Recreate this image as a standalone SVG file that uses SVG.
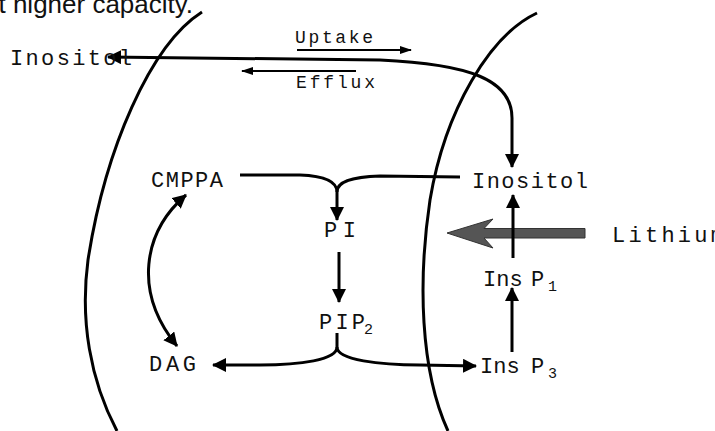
<svg xmlns="http://www.w3.org/2000/svg" width="715" height="431" viewBox="0 0 715 431">
<style>
.lbl{font-family:"Liberation Mono","DejaVu Sans Mono",monospace;font-size:22px;fill:#111}
.small{font-family:"Liberation Mono","DejaVu Sans Mono",monospace;font-size:18px;fill:#111}
.sub{font-family:"Liberation Mono","DejaVu Sans Mono",monospace;font-size:15px;fill:#111}
.mem{fill:none;stroke:#000;stroke-width:3}
.c{fill:none;stroke:#000;stroke-width:3}
.t{fill:none;stroke:#000;stroke-width:2}
</style>
<defs>
<marker id="ah" markerUnits="userSpaceOnUse" markerWidth="14" markerHeight="14" refX="13" refY="7" orient="auto-start-reverse" viewBox="0 0 14 14">
<path d="M0,0 L14,7 L0,14 Z" fill="#000"/>
</marker>
<marker id="ahs" markerUnits="userSpaceOnUse" markerWidth="12" markerHeight="8" refX="11" refY="4" orient="auto-start-reverse" viewBox="0 0 12 8">
<path d="M0,0 L12,4 L0,8 Z" fill="#000"/>
</marker>
</defs>
<rect width="715" height="431" fill="#fff"/>
<text x="-16" y="12.5" font-family="'Liberation Sans',Arial,sans-serif" font-size="26" fill="#111">at higher capacity.</text>
<g id="membranes">
<path class="mem" d="M202,12 C150,45 105,150 88,260 C80,320 90,380 117,431"/>
<path class="mem" d="M537,13 C490,35 445,110 430,200 C418,280 420,370 448,431"/>
</g>
<g id="lithium-arrow">
<path d="M585,228.5 L484,228.5 L493,219 L447,233 L493,248 L484,238 L585,238 Z" fill="#555" stroke="#333" stroke-width="1"/>
</g>
<g id="connectors">
<path class="c" d="M512,167 L512,118 C512,80 470,64 380,60 L108,57" marker-start="url(#ah)" marker-end="url(#ah)"/>
<path class="t" d="M297,50 L411,50" marker-end="url(#ahs)"/>
<path class="t" d="M356,71 L242,71" marker-end="url(#ahs)"/>
<path class="c" d="M240,175 L300,175 C326,176 337,182 337,192"/>
<path class="c" d="M460,177 L380,176 C350,177 337,182 337,192"/>
<path class="c" d="M337,192 L337,220" marker-end="url(#ah)"/>
<path class="c" d="M339,252 L339,302" marker-end="url(#ah)"/>
<path class="c" d="M337,333 L337,347 C337,360 300,365 260,365 L213,365" marker-end="url(#ah)"/>
<path class="c" d="M337,347 C337,360 380,365 420,365 L476,366" marker-end="url(#ah)"/>
<path class="c" d="M512,352 L512,288" marker-end="url(#ah)"/>
<path class="c" d="M513,258 L513,195" marker-end="url(#ah)"/>
<path class="c" d="M186,195 C143,232 133,292 177,346" marker-start="url(#ah)" marker-end="url(#ah)"/>
</g>
<g id="inositol-out"><text class="lbl" x="10" y="65" textLength="122" lengthAdjust="spacing">Inositol</text></g>
<g id="uptake"><text class="small" x="295" y="43" textLength="78" lengthAdjust="spacing">Uptake</text></g>
<g id="efflux"><text class="small" x="296" y="88" textLength="79" lengthAdjust="spacing">Efflux</text></g>
<g id="cmppa"><text class="lbl" x="151" y="187" textLength="72" lengthAdjust="spacing">CMPPA</text></g>
<g id="inositol-in"><text class="lbl" x="472" y="188" textLength="116" lengthAdjust="spacing">Inositol</text></g>
<g id="pi"><text class="lbl" x="324" y="237" textLength="32" lengthAdjust="spacing">PI</text></g>
<g id="lithium"><text class="lbl" x="612" y="242" textLength="112" lengthAdjust="spacing">Lithium</text></g>
<g id="pip2"><text class="lbl" x="319" y="329" textLength="46" lengthAdjust="spacing">PIP</text><text class="sub" x="364" y="334">2</text></g>
<g id="dag"><text class="lbl" x="149" y="371" textLength="47" lengthAdjust="spacing">DAG</text></g>
<g id="insp1"><text class="lbl" x="483" y="286">Ins</text><text class="lbl" x="531" y="286">P</text><text class="sub" x="548" y="291">1</text></g>
<g id="insp3"><text class="lbl" x="480" y="373">Ins</text><text class="lbl" x="531" y="373">P</text><text class="sub" x="548" y="378">3</text></g>
</svg>
